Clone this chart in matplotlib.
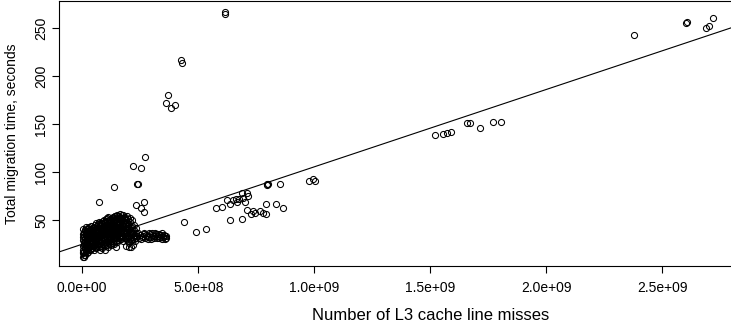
import numpy as np
import matplotlib
matplotlib.use("Agg")
import matplotlib.pyplot as plt

plt.rcParams['font.family'] = ['Liberation Sans', 'DejaVu Sans']

# L3 misses in millions, migration time in seconds
# dense low-miss cluster
cluster_x = [4, 3, 5, 2, 6, 4, 3, 5, 7, 4,
             13, 15, 12, 16, 14, 13, 17, 15, 12, 16,
             25, 27, 24, 28, 26, 25, 29, 27, 24,
             37, 39, 36, 40, 38, 37, 41, 39, 36,
             49, 51, 48, 52, 50, 49, 53, 51,
             61, 63, 60, 64, 62, 61, 65, 63, 60,
             74, 76, 73, 77, 75, 74, 78, 76, 73,
             87, 89, 86, 90, 88, 87, 91, 89, 86, 90,
             99, 101, 98, 102, 100, 99, 103, 101, 98, 102,
             111, 113, 110, 114, 112, 111, 115, 113, 110, 114, 112,
             124, 126, 123, 127, 125, 124, 128, 126, 123, 127,
             137, 139, 136, 140, 138, 137, 141, 139, 136, 140,
             149, 151, 148, 152, 150, 149, 153, 151, 148, 152,
             162, 164, 161, 165, 163, 162, 166, 164, 161,
             175, 177, 174, 178, 176, 175, 179, 177,
             189, 191, 188, 192, 190, 189, 193,
             202, 204, 201, 205, 203, 202, 206,
             215, 217, 214, 218, 216, 215,
             229, 231, 228, 232, 230]
cluster_y = [12, 16, 19, 23, 26, 29, 32, 35, 38, 41,
             14, 18, 22, 25, 28, 31, 34, 37, 40, 43,
             17, 21, 24, 27, 30, 33, 36, 39, 42,
             20, 23, 26, 29, 32, 35, 38, 41, 44,
             19, 23, 27, 30, 33, 36, 39, 43,
             21, 25, 28, 31, 34, 37, 40, 44, 47,
             22, 26, 29, 32, 35, 38, 41, 45, 48,
             21, 25, 28, 31, 34, 37, 40, 43, 46, 49,
             23, 27, 30, 33, 36, 39, 42, 45, 48, 51,
             22, 26, 29, 32, 35, 38, 41, 44, 47, 50, 53,
             24, 28, 31, 34, 37, 40, 43, 46, 49, 52,
             25, 29, 32, 35, 38, 41, 44, 47, 50, 54,
             27, 31, 34, 37, 40, 43, 46, 49, 52, 55,
             30, 34, 37, 40, 43, 46, 50, 53, 56,
             28, 32, 36, 40, 44, 48, 52, 55,
             30, 34, 38, 42, 46, 50, 54,
             26, 30, 33, 37, 41, 46, 52,
             29, 32, 35, 39, 44, 50,
             28, 31, 34, 37, 42]

# more runs inside the same cluster
cluster2_x = [9, 8, 10, 9, 8, 10, 9, 8, 10,
              20, 21, 19, 20, 21, 19, 20, 21, 19,
              32, 33, 31, 32, 33, 31, 32, 33, 31,
              44, 45, 43, 44, 45, 43, 44, 45,
              56, 57, 55, 56, 57, 55, 56, 57,
              68, 69, 67, 68, 69, 67, 68, 69,
              81, 82, 80, 81, 82, 80, 81, 82, 80,
              94, 95, 93, 94, 95, 93, 94, 95, 93, 94,
              106, 107, 105, 106, 107, 105, 106, 107, 105, 106,
              118, 119, 117, 118, 119, 117, 118, 119, 117, 118,
              131, 132, 130, 131, 132, 130, 131, 132, 130, 131,
              144, 145, 143, 144, 145, 143, 144, 145, 143,
              156, 157, 155, 156, 157, 155, 156, 157, 155,
              169, 170, 168, 169, 170, 168, 169, 170,
              183, 184, 182, 183, 184, 182, 183,
              196, 197, 195, 196, 197, 195, 196,
              209, 210, 208, 209, 210, 208,
              222, 223, 221, 222, 223]
cluster2_y = [14, 17, 21, 24, 27, 30, 33, 36, 40,
              16, 20, 23, 26, 29, 32, 35, 38, 41,
              19, 22, 25, 28, 31, 34, 37, 40, 43,
              21, 24, 28, 31, 34, 37, 40, 42,
              22, 26, 29, 32, 35, 38, 42, 45,
              23, 27, 30, 33, 36, 39, 43, 46,
              23, 27, 30, 33, 36, 39, 42, 44, 47,
              24, 26, 29, 32, 35, 38, 41, 44, 47, 50,
              24, 28, 31, 34, 37, 40, 43, 46, 49, 52,
              25, 27, 30, 33, 36, 39, 42, 45, 48, 51,
              26, 30, 33, 36, 39, 42, 45, 48, 51, 53,
              28, 32, 35, 38, 42, 45, 48, 51, 54,
              29, 33, 36, 39, 42, 45, 48, 51, 54,
              30, 33, 38, 42, 45, 49, 52, 55,
              31, 35, 39, 43, 47, 51, 53,
              28, 32, 36, 40, 44, 48, 51,
              28, 31, 34, 38, 43, 48,
              30, 33, 36, 40, 45]

# flat tail around 30-36 s, plus low stragglers
tail_x = [245, 250, 258, 265, 272, 280, 288, 295, 302, 310, 318,
          325, 332, 340, 348, 355, 360, 285, 300, 315, 330, 345,
          238, 242, 254, 262, 268, 276, 283, 292, 298, 306, 313,
          321, 328, 336, 343, 351, 357, 362,
          8, 3, 32, 78, 97, 147, 190, 212, 218, 200]
tail_y = [31, 34, 32, 35, 31, 33, 36, 32, 34, 31, 35,
          33, 31, 34, 32, 33, 31, 30, 36, 33, 35, 30,
          33, 36, 30, 33, 36, 34, 32, 35, 30, 33, 36,
          31, 35, 32, 36, 34, 30, 33,
          12, 17, 19, 19, 19, 22, 23, 22, 24, 22]

# remaining runs
spread_x = [614, 615, 427, 428, 370, 359, 381, 399,
            221, 255, 269, 238, 239, 139, 74, 268, 231, 255, 266, 78,
            438, 491, 532, 575, 601, 636, 690,
            626, 636, 650, 662, 667, 676, 690, 693, 700, 708, 715, 710,
            726, 736, 744, 765, 779, 791, 795, 797, 800, 794, 835, 851,
            866, 976, 995, 1002,
            1519, 1555, 1570, 1587, 1659, 1673, 1716, 1771, 1803,
            2378, 2600, 2604, 2688, 2699, 2719]
spread_y = [267, 265, 217, 214, 180, 172, 167, 170,
            106, 104, 116, 88, 87, 84, 69, 69, 66, 63, 58, 47,
            48, 38, 41, 62, 64, 50, 51,
            71, 67, 71, 72, 69, 72, 78, 73, 69, 78, 75, 60,
            56, 59, 57, 59, 57, 56, 87, 86, 87, 67, 67, 88,
            62, 91, 93, 91,
            139, 140, 141, 142, 151, 151, 146, 152, 152,
            243, 255, 256, 250, 252, 260]

# least-squares fit
fit_intercept = 24.8
fit_slope = 8.06e-8

xticks = [0, 5e8, 1e9, 1.5e9, 2e9, 2.5e9]
xtick_labels = ["0.0e+00", "5.0e+08", "1.0e+09", "1.5e+09", "2.0e+09", "2.5e+09"]
yticks = [50, 100, 150, 200, 250]

misses = np.array(cluster_x + cluster2_x + tail_x + spread_x) * 1e6
seconds = np.array(cluster_y + cluster2_y + tail_y + spread_y)

fig = plt.figure(figsize=(7.31, 3.25), dpi=100)
ax = fig.add_axes([59 / 731, 58.7 / 325, 680 / 731, 265.2 / 325])

ax.plot(misses, seconds, "o", mfc="none", mec="black", ms=4.4, mew=0.75, ls="none")
ax.axline((0, fit_intercept), slope=fit_slope, color="black", lw=0.8)

ax.set_xlim(-1.0e8, 2.83e9)
ax.set_ylim(1.8, 278)

ax.set_xticks(xticks)
ax.set_xticklabels(xtick_labels)
ax.set_yticks(yticks)
ax.set_yticklabels([str(v) for v in yticks], rotation=90, va="center")

for s in ax.spines.values():
    s.set_linewidth(0.8)
    s.set_color("black")
ax.tick_params(direction="out", length=4.8, width=0.8, labelsize=10, colors="black")
ax.tick_params(axis="x", pad=6)
ax.tick_params(axis="y", pad=3)

fig.text(431 / 731, 1 - 315 / 325, "Number of L3 cache line misses",
         ha="center", va="center", fontsize=12)
fig.text(12.5 / 731, 1 - 134 / 325, "Total migration time, seconds",
         ha="center", va="center", rotation=90, fontsize=10)

fig.savefig("out.png", dpi=100)
